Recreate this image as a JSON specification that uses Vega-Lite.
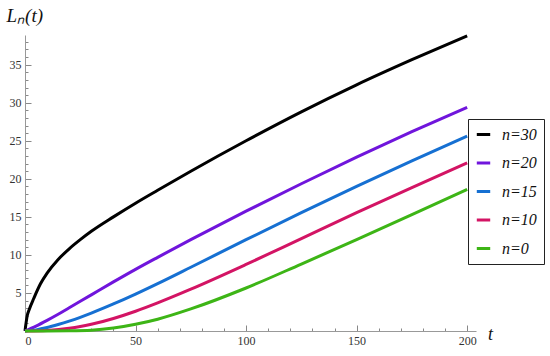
{
  "$schema": "https://vega.github.io/schema/vega-lite/v6.json",
  "width": 451,
  "height": 296,
  "autosize": {"type": "none"},
  "padding": {"left": 25, "top": 35, "right": 74, "bottom": 25},
  "background": "white",
  "config": {"view": {"stroke": null}},
  "datasets": {
    "curves": [
      {"t": 0, "L": 0, "n": "n=30"}, {"t": 1, "L": 2.0, "n": "n=30"}, {"t": 2, "L": 2.9, "n": "n=30"}, {"t": 4, "L": 4.3, "n": "n=30"}, {"t": 7, "L": 6.2, "n": "n=30"}, {"t": 10, "L": 7.6, "n": "n=30"}, {"t": 15, "L": 9.4, "n": "n=30"}, {"t": 20, "L": 10.8, "n": "n=30"}, {"t": 25, "L": 12.0, "n": "n=30"}, {"t": 30, "L": 13.1, "n": "n=30"}, {"t": 40, "L": 15.0, "n": "n=30"}, {"t": 50, "L": 16.8, "n": "n=30"}, {"t": 60, "L": 18.5, "n": "n=30"}, {"t": 75, "L": 21.0, "n": "n=30"}, {"t": 100, "L": 25.0, "n": "n=30"}, {"t": 125, "L": 28.8, "n": "n=30"}, {"t": 150, "L": 32.35, "n": "n=30"}, {"t": 175, "L": 35.65, "n": "n=30"}, {"t": 200, "L": 38.8, "n": "n=30"},
      {"t": 0, "L": 0, "n": "n=20"}, {"t": 5, "L": 0.65, "n": "n=20"}, {"t": 10, "L": 1.4, "n": "n=20"}, {"t": 15, "L": 2.2, "n": "n=20"}, {"t": 20, "L": 3.05, "n": "n=20"}, {"t": 25, "L": 3.9, "n": "n=20"}, {"t": 30, "L": 4.75, "n": "n=20"}, {"t": 40, "L": 6.45, "n": "n=20"}, {"t": 50, "L": 8.1, "n": "n=20"}, {"t": 60, "L": 9.68, "n": "n=20"}, {"t": 75, "L": 12.0, "n": "n=20"}, {"t": 100, "L": 15.75, "n": "n=20"}, {"t": 125, "L": 19.35, "n": "n=20"}, {"t": 150, "L": 22.85, "n": "n=20"}, {"t": 175, "L": 26.2, "n": "n=20"}, {"t": 200, "L": 29.4, "n": "n=20"},
      {"t": 0, "L": 0, "n": "n=15"}, {"t": 5, "L": 0.15, "n": "n=15"}, {"t": 10, "L": 0.45, "n": "n=15"}, {"t": 15, "L": 0.85, "n": "n=15"}, {"t": 20, "L": 1.3, "n": "n=15"}, {"t": 25, "L": 1.8, "n": "n=15"}, {"t": 30, "L": 2.35, "n": "n=15"}, {"t": 40, "L": 3.55, "n": "n=15"}, {"t": 50, "L": 4.85, "n": "n=15"}, {"t": 60, "L": 6.23, "n": "n=15"}, {"t": 75, "L": 8.38, "n": "n=15"}, {"t": 100, "L": 12.0, "n": "n=15"}, {"t": 125, "L": 15.55, "n": "n=15"}, {"t": 150, "L": 19.0, "n": "n=15"}, {"t": 175, "L": 22.35, "n": "n=15"}, {"t": 200, "L": 25.6, "n": "n=15"},
      {"t": 0, "L": 0, "n": "n=10"}, {"t": 10, "L": 0.08, "n": "n=10"}, {"t": 20, "L": 0.35, "n": "n=10"}, {"t": 25, "L": 0.58, "n": "n=10"}, {"t": 30, "L": 0.88, "n": "n=10"}, {"t": 40, "L": 1.65, "n": "n=10"}, {"t": 50, "L": 2.6, "n": "n=10"}, {"t": 60, "L": 3.7, "n": "n=10"}, {"t": 75, "L": 5.5, "n": "n=10"}, {"t": 100, "L": 8.75, "n": "n=10"}, {"t": 125, "L": 12.15, "n": "n=10"}, {"t": 150, "L": 15.55, "n": "n=10"}, {"t": 175, "L": 18.85, "n": "n=10"}, {"t": 200, "L": 22.1, "n": "n=10"},
      {"t": 0, "L": 0, "n": "n=0"}, {"t": 10, "L": 0, "n": "n=0"}, {"t": 20, "L": 0.02, "n": "n=0"}, {"t": 30, "L": 0.1, "n": "n=0"}, {"t": 40, "L": 0.38, "n": "n=0"}, {"t": 50, "L": 0.88, "n": "n=0"}, {"t": 60, "L": 1.55, "n": "n=0"}, {"t": 75, "L": 2.9, "n": "n=0"}, {"t": 100, "L": 5.65, "n": "n=0"}, {"t": 125, "L": 8.8, "n": "n=0"}, {"t": 150, "L": 12.0, "n": "n=0"}, {"t": 175, "L": 15.28, "n": "n=0"}, {"t": 200, "L": 18.6, "n": "n=0"}
    ]
  },
  "data": {"name": "curves"},
  "resolve": {"axis": {"x": "independent", "y": "independent"}},
  "layer": [
    {
      "mark": {"type": "line", "strokeOpacity": 0},
      "encoding": {
        "x": {"field": "t", "type": "quantitative", "scale": {"domain": [0, 204], "nice": false, "zero": false},
          "axis": {"orient": "top", "offset": -296, "values": [10, 20, 30, 40, 60, 70, 80, 90, 110, 120, 130, 140, 160, 170, 180, 190], "labels": false, "domain": false, "grid": false, "title": null, "tickSize": 3, "tickColor": "#888888", "tickWidth": 1}},
        "y": {"field": "L", "type": "quantitative", "scale": {"domain": [0, 38.9], "nice": false, "zero": false},
          "axis": {"orient": "right", "offset": -451, "values": [1, 2, 3, 4, 6, 7, 8, 9, 11, 12, 13, 14, 16, 17, 18, 19, 21, 22, 23, 24, 26, 27, 28, 29, 31, 32, 33, 34, 36, 37, 38], "labels": false, "domain": false, "grid": false, "title": null, "tickSize": 3, "tickColor": "#888888", "tickWidth": 1}},
        "detail": {"field": "n", "type": "nominal"}
      }
    },
    {
      "mark": {"type": "line", "strokeWidth": 3, "interpolate": "monotone", "clip": false},
      "encoding": {
        "x": {"field": "t", "type": "quantitative",
          "axis": {"orient": "bottom", "values": [0, 50, 100, 150, 200], "grid": false, "domainColor": "#999999", "domainWidth": 1, "tickColor": "#888888", "tickSize": -6, "tickWidth": 1, "labelPadding": 10, "labelFont": "Liberation Serif", "labelFontSize": 12, "labelColor": "#333333",
            "title": "t", "titleFont": "Liberation Serif", "titleFontStyle": "italic", "titleFontWeight": "normal", "titleFontSize": 18, "titleColor": "#111111", "titleAngle": 0, "titleX": 465, "titleY": 8, "titleAlign": "center", "titleBaseline": "alphabetic"}},
        "y": {"field": "L", "type": "quantitative",
          "axis": {"orient": "left", "values": [5, 10, 15, 20, 25, 30, 35], "grid": false, "domainColor": "#999999", "domainWidth": 1, "tickColor": "#888888", "tickSize": -6, "tickWidth": 1, "labelPadding": 10, "labelFont": "Liberation Serif", "labelFontSize": 12, "labelColor": "#333333",
            "title": "Lₙ(t)", "titleFont": "Liberation Serif", "titleFontStyle": "italic", "titleFontWeight": "normal", "titleFontSize": 19, "titleColor": "#111111", "titleAngle": 0, "titleX": -19, "titleY": -14, "titleAlign": "left", "titleBaseline": "alphabetic"}},
        "color": {"field": "n", "type": "nominal",
          "scale": {"domain": ["n=30", "n=20", "n=15", "n=10", "n=0"], "range": ["#000000", "#7015dc", "#1670d2", "#d31464", "#3db516"]},
          "legend": {"orient": "none", "legendX": 443, "legendY": 84, "title": null, "fillColor": "white", "strokeColor": "#222222", "padding": 7, "rowPadding": 11.5, "symbolType": "stroke", "symbolSize": 180, "symbolStrokeWidth": 3, "labelFont": "Liberation Serif", "labelFontStyle": "italic", "labelFontSize": 16, "labelColor": "#111111", "labelOffset": 10}
        }
      }
    }
  ]
}
